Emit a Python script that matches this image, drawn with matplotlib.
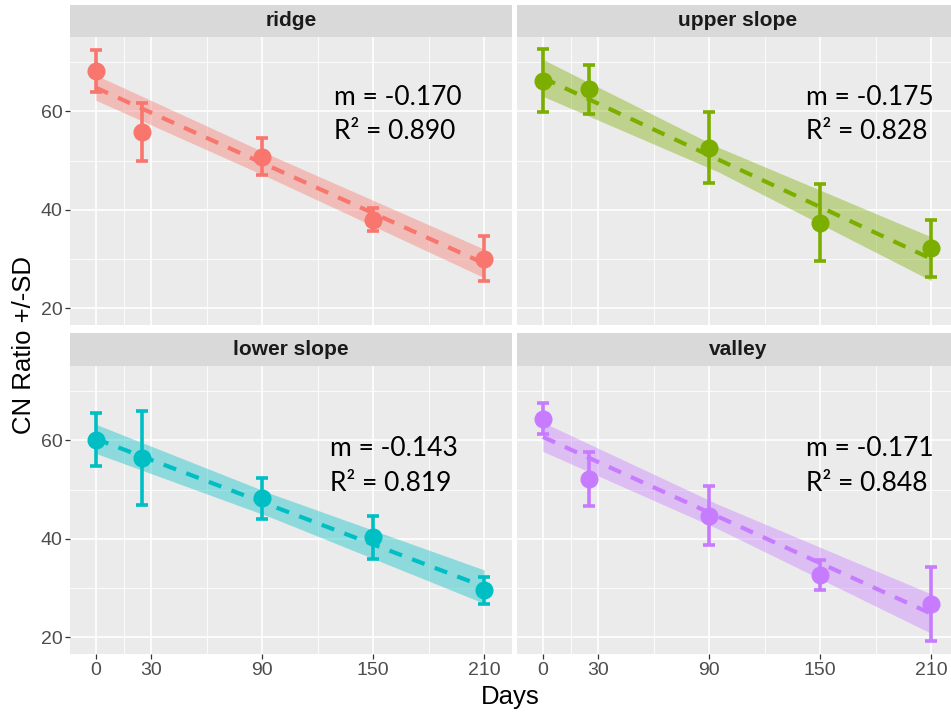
import numpy as np
import matplotlib
matplotlib.use("Agg")
import matplotlib.pyplot as plt

# ---- data ----
panels = ["ridge", "upper slope", "lower slope", "valley"]
colors = ["#F8766D", "#7CAE00", "#00BFC4", "#C77CFF"]
days = [0, 25, 90, 150, 210]

ridge_mean = [68.2, 55.8, 50.8, 38.0, 30.1]
ridge_sd = [4.2, 5.9, 3.8, 2.3, 4.5]
upper_mean = [66.2, 64.5, 52.6, 37.4, 32.2]
upper_sd = [6.4, 5.0, 7.2, 7.8, 5.8]
lower_mean = [60.1, 56.4, 48.2, 40.3, 29.5]
lower_sd = [5.4, 9.5, 4.2, 4.4, 2.75]
valley_mean = [64.4, 52.1, 44.7, 32.7, 26.7]
valley_sd = [3.2, 5.45, 6.0, 3.05, 7.55]

slopes = [-0.170, -0.175, -0.143, -0.171]
r2 = [0.890, 0.828, 0.819, 0.848]
intercepts = [64.8, 66.8, 60.3, 60.7]
# confidence band half-width at day 0, mid (day 95), day 210
band_hw = [(2.55, 2.35, 2.9), (3.75, 2.5, 4.45), (2.95, 2.4, 3.4), (2.95, 2.5, 4.0)]
# annotation anchor (left x in days, y of m-line, y of R2-line)
ann_pos = [(129, 62.9, 55.9), (142, 62.9, 55.9), (126.5, 58.4, 51.3), (142, 58.4, 51.3)]

x_major = [0, 30, 90, 150, 210]
x_minor = [15, 60, 120, 180]
y_major = [20, 40, 60]
y_minor = [30, 50, 70]

means = [ridge_mean, upper_mean, lower_mean, valley_mean]
sds = [ridge_sd, upper_sd, lower_sd, valley_sd]

W, H = 951, 717
fig = plt.figure(figsize=(W / 100, H / 100), dpi=100)


def rect(x0, y0, x1, y1):
    return [x0 / W, 1 - y1 / H, (x1 - x0) / W, (y1 - y0) / H]


panel_px = [(70, 37, 512, 325), (517, 37, 959, 325), (70, 366, 512, 654), (517, 366, 959, 654)]
strip_px = [(70, 5, 512, 37), (517, 5, 959, 37), (70, 333, 512, 366), (517, 333, 959, 366)]

tick_font = "Liberation Sans"
ann_font = "Lato"

for i, name in enumerate(panels):
    ax = fig.add_axes(rect(*panel_px[i]))
    ax.set_facecolor("#EBEBEB")
    for s in ax.spines.values():
        s.set_visible(False)
    ax.set_xlim(-14, 225)
    ax.set_ylim(16.6, 75.1)
    ax.set_xticks(x_major)
    ax.set_xticks(x_minor, minor=True)
    ax.set_yticks(y_major)
    ax.set_yticks(y_minor, minor=True)
    ax.grid(True, which="major", color="white", linewidth=1.2)
    ax.grid(True, which="minor", color="white", linewidth=0.6)
    ax.set_axisbelow(True)
    ax.tick_params(which="minor", length=0)
    ax.tick_params(which="major", color="#333333", length=3.5, width=0.9,
                   labelsize=14, labelcolor="#4D4D4D", pad=2)
    for lab in ax.get_xticklabels() + ax.get_yticklabels():
        lab.set_family(tick_font)
    if i % 2 == 1:
        ax.tick_params(axis="y", left=False, labelleft=False)
    if i < 2:
        ax.tick_params(axis="x", bottom=False, labelbottom=False)

    c = colors[i]
    xs = np.linspace(0, 210, 100)
    fit = intercepts[i] + slopes[i] * xs
    h0, hm, h1 = band_hw[i]
    hw = np.interp(xs, [0, 95, 210], [h0, hm, h1])
    ax.fill_between(xs, fit - hw, fit + hw, color=c, alpha=0.4, linewidth=0, zorder=2)
    ax.plot(xs, fit, color=c, linewidth=3.0, dashes=(3.2, 2.6), zorder=3)
    ax.errorbar(days, means[i], yerr=sds[i], fmt="o", color=c, ecolor=c,
                markersize=12, elinewidth=2.6, capsize=4.5, capthick=2.6, zorder=4)

    ax_x, ay1, ay2 = ann_pos[i]
    ax.text(ax_x, ay1, f"m = {slopes[i]:.3f}", fontsize=19, family=ann_font,
            ha="left", va="center", color="black", zorder=5)
    ax.text(ax_x, ay2, f"R\u00b2 = {r2[i]:.3f}", fontsize=19, family=ann_font,
            ha="left", va="center", color="black", zorder=5)

    sx = fig.add_axes(rect(*strip_px[i]))
    sx.set_facecolor("#D9D9D9")
    sx.set_xticks([])
    sx.set_yticks([])
    for s in sx.spines.values():
        s.set_visible(False)
    sx.text(0.5, 0.5, name, transform=sx.transAxes, ha="center", va="center",
            fontsize=15, fontweight="bold", color="#1A1A1A", family=tick_font)

fig.text(24 / W, 1 - 345 / H, "CN Ratio +/-SD", rotation=90, ha="center", va="center",
         fontsize=18.5, family=tick_font, color="black")
fig.text(510 / W, 1 - 697 / H, "Days", ha="center", va="center",
         fontsize=18.5, family=tick_font, color="black")

fig.savefig("out.png", dpi=100)
